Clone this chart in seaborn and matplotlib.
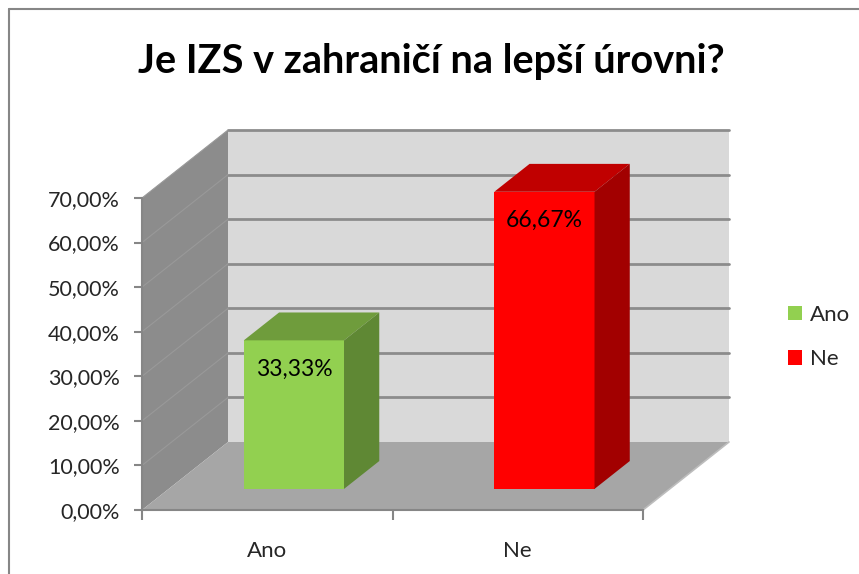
import matplotlib
matplotlib.use("Agg")
import matplotlib.pyplot as plt
from matplotlib.patches import Polygon, Patch
from matplotlib.lines import Line2D
import seaborn as sns
import pandas as pd
import numpy as np

# ---- data ----
categories = ["Ano", "Ne"]
values = [0.3333, 0.6667]
value_labels = ["33,33%", "66,67%"]
front_colors = ["#92d050", "#ff0000"]
top_colors = ["#6f9c3c", "#c00000"]
side_colors = ["#5f8834", "#a20000"]
y_ticks = [0.0, 0.1, 0.2, 0.3, 0.4, 0.5, 0.6, 0.7]
y_tick_labels = ["0,00%", "10,00%", "20,00%", "30,00%", "40,00%", "50,00%", "60,00%", "70,00%"]
title = "Je IZS v zahraničí na lepší úrovni?"

sns.set_theme(style="white")
plt.rcParams["font.family"] = ["Lato", "DejaVu Sans"]

W, H = 859, 574
fig = plt.figure(figsize=(W / 100, H / 100), dpi=100)
# front plane of the 3D box
x0, x1, yb, yt = 142, 643, 510, 198
ax = fig.add_axes([x0 / W, (H - yb) / H, (x1 - x0) / W, (yb - yt) / H])

df = pd.DataFrame({"cat": categories, "val": values})
YMAX = 0.7
px_per_x = (x1 - x0) / 2.0
px_per_y = (yb - yt) / YMAX
DX = 86 / px_per_x      # depth offset (data units) per unit depth
DY = 68 / px_per_y
D0, D1 = 0.31, 0.72     # bar depth range
BW = 0.4

def P(x, y, d):
    return (x + d * DX, y + d * DY)

# walls
back = Polygon([P(-0.5, 0, 1), P(1.5, 0, 1), P(1.5, YMAX, 1), P(-0.5, YMAX, 1)],
               closed=True, facecolor="#d9d9d9", edgecolor="none", zorder=0, clip_on=False)
side = Polygon([P(-0.5, 0, 0), P(-0.5, 0, 1), P(-0.5, YMAX, 1), P(-0.5, YMAX, 0)],
               closed=True, facecolor="#8c8c8c", edgecolor="none", zorder=0, clip_on=False)
floor = Polygon([P(-0.5, 0, 0), P(1.5, 0, 0), P(1.5, 0, 1), P(-0.5, 0, 1)],
                closed=True, facecolor="#a6a6a6", edgecolor="none", zorder=0.5, clip_on=False)
walls = [back, side, floor]
for p in walls:
    ax.add_patch(p)
for t in y_ticks[1:]:
    a, b = P(-0.5, t, 1), P(1.5, t, 1)
    ax.add_line(Line2D([a[0], b[0]], [a[1], b[1]], color="#8c8c8c", lw=2.0, zorder=0.2, clip_on=False))
    a, b = P(-0.5, t, 0), P(-0.5, t, 1)
    ax.add_line(Line2D([a[0], b[0]], [a[1], b[1]], color="#999999", lw=0.8, zorder=0.2, clip_on=False))
a, b = P(1.5, 0, 0), P(1.5, 0, 1)
ax.add_line(Line2D([a[0], b[0]], [a[1], b[1]], color="#bdbdbd", lw=1.2, zorder=0.6, clip_on=False))

# front faces via seaborn
sns.barplot(data=df, x="cat", y="val", hue="cat", palette=front_colors, width=BW,
            ax=ax, legend=False, saturation=1, zorder=3)
off = matplotlib.transforms.Affine2D().translate(D0 * DX, D0 * DY)
for bar in [p for p in ax.patches if p not in walls]:
    bar.set_transform(off + ax.transData)
    bar.set_clip_on(False)
    bar.set_edgecolor("none")

for i, v in enumerate(values):
    xl, xr = i - BW / 2, i + BW / 2
    top = Polygon([P(xl, v, D0), P(xr, v, D0), P(xr, v, D1), P(xl, v, D1)], closed=True,
                  facecolor=top_colors[i], edgecolor="none", zorder=3, clip_on=False)
    sd = Polygon([P(xr, 0, D0), P(xr, 0, D1), P(xr, v, D1), P(xr, v, D0)], closed=True,
                 facecolor=side_colors[i], edgecolor="none", zorder=3, clip_on=False)
    ax.add_patch(top)
    ax.add_patch(sd)
    lx, ly = P(i, v, D0)
    ax.text(lx, ly - 29 / px_per_y, value_labels[i], ha="center", va="center",
            fontsize=16.5, color="black", zorder=5)

ax.set_xlim(-0.5, 1.5)
ax.set_ylim(0, YMAX)
ax.set_facecolor("none")
ax.patch.set_alpha(0)
for s in ("top", "right"):
    ax.spines[s].set_visible(False)
for s in ("left", "bottom"):
    ax.spines[s].set_color("#868686")
    ax.spines[s].set_linewidth(1.5)
    ax.spines[s].set_zorder(4)
ax.set_yticks(y_ticks)
ax.set_yticklabels(y_tick_labels, fontsize=15.5)
ax.set_xticks([0, 1])
ax.set_xticklabels(categories, fontsize=16)
ax.set_xticks([-0.5, 0.5, 1.5], minor=True)
ax.tick_params(axis="x", which="major", length=0, pad=22)
ax.tick_params(axis="x", which="minor", length=7, width=1.5, color="#868686", direction="out", bottom=True)
ax.tick_params(axis="y", length=6, width=1.5, color="#868686", direction="out", left=True, pad=10)
ax.set_xlabel("")
ax.set_ylabel("")

fig.text(431 / W, 1 - 61 / H, title, ha="center", va="center", fontsize=28.5,
         fontweight="bold", color="black")

handles = [Patch(facecolor=c, edgecolor="none") for c in front_colors]
fig.legend(handles, categories, loc="center left", bbox_to_anchor=(768 / W, 1 - 337 / H),
           frameon=False, fontsize=16, handlelength=0.65, handleheight=0.65,
           handletextpad=0.35, labelspacing=1.1)

# outer frame (top and left visible)
fig.add_artist(Line2D([9 / W, 1.0], [1 - 9 / H, 1 - 9 / H], color="#868686", lw=1.5, transform=fig.transFigure))
fig.add_artist(Line2D([9 / W, 9 / W], [1 - 9 / H, 0.0], color="#868686", lw=1.5, transform=fig.transFigure))

fig.savefig("out.png", dpi=100)
